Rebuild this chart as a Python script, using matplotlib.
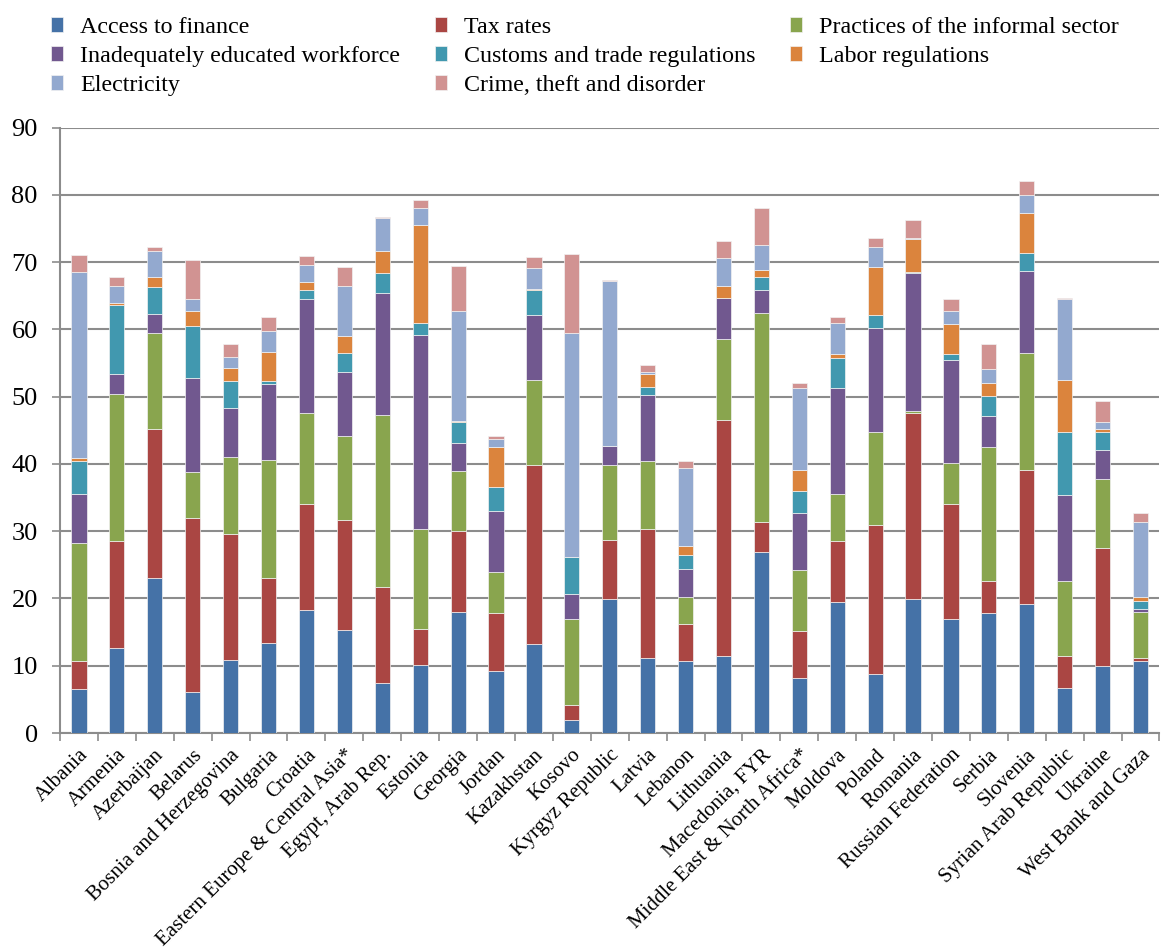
import matplotlib
matplotlib.use("Agg")
import matplotlib.pyplot as plt
import numpy as np

plt.rcParams['font.family'] = ['Liberation Serif', 'DejaVu Serif']

countries = ["Albania", "Armenia", "Azerbaijan", "Belarus", "Bosnia and Herzegovina",
             "Bulgaria", "Croatia", "Eastern Europe & Central Asia*", "Egypt, Arab Rep.",
             "Estonia", "Georgia", "Jordan", "Kazakhstan", "Kosovo", "Kyrgyz Republic",
             "Latvia", "Lebanon", "Lithuania", "Macedonia, FYR",
             "Middle East & North Africa*", "Moldova", "Poland", "Romania",
             "Russian Federation", "Serbia", "Slovenia", "Syrian Arab Republic",
             "Ukraine", "West Bank and Gaza"]

finance    = [6.5, 12.7, 23.1, 6.1, 10.9, 13.4, 18.3, 15.3, 7.5, 10.1, 18.0, 9.2, 13.3, 2.0, 19.9,
              11.1, 10.7, 11.4, 26.9, 8.2, 19.5, 8.8, 19.9, 17.0, 17.8, 19.2, 6.7, 10.0, 10.7]
tax        = [4.2, 15.9, 22.1, 25.9, 18.7, 9.6, 15.7, 16.3, 14.2, 5.4, 12.1, 8.6, 26.5, 2.2, 8.8,
              19.2, 5.5, 35.1, 4.4, 6.9, 9.0, 22.1, 27.7, 17.0, 4.8, 19.9, 4.7, 17.5, 0.5]
informal   = [17.5, 21.8, 14.2, 6.8, 11.4, 17.6, 13.6, 12.6, 25.6, 14.8, 8.9, 6.1, 12.7, 12.8, 11.1,
              10.2, 4.0, 12.1, 31.2, 9.2, 7.1, 13.8, 0.2, 6.2, 19.9, 17.4, 11.2, 10.2, 6.8]
workforce  = [7.3, 2.9, 2.9, 14.0, 7.3, 11.3, 16.9, 9.5, 18.1, 28.8, 4.1, 9.1, 9.6, 3.7, 2.8,
              9.7, 4.2, 6.1, 3.4, 8.4, 15.7, 15.5, 20.6, 15.3, 4.7, 12.2, 12.8, 4.3, 0.4]
customs    = [5.0, 10.4, 4.0, 7.7, 4.1, 0.5, 1.3, 2.8, 3.0, 1.8, 3.2, 3.5, 3.7, 5.4, 0.0,
              1.3, 2.1, 0.0, 1.9, 3.3, 4.4, 1.9, 0.1, 0.9, 2.9, 2.6, 9.4, 2.8, 1.3]
labor      = [0.4, 0.2, 1.5, 2.3, 1.9, 4.3, 1.2, 2.5, 3.3, 14.6, 0.1, 6.0, 0.2, 0.0, 0.0,
              1.9, 1.3, 1.7, 1.0, 3.1, 0.7, 7.1, 4.9, 4.4, 2.0, 6.0, 7.7, 0.4, 0.5]
electricity = [27.7, 2.5, 3.8, 1.7, 1.6, 3.0, 2.5, 7.5, 4.8, 2.5, 16.4, 1.2, 3.1, 33.4, 24.6,
               0.2, 11.6, 4.2, 3.8, 12.2, 4.5, 3.1, 0.2, 2.0, 2.0, 2.7, 12.0, 1.1, 11.2]
crime      = [2.4, 1.4, 0.6, 5.8, 1.9, 2.1, 1.4, 2.7, 0.2, 1.2, 6.6, 0.5, 1.6, 11.7, 0.1,
              1.1, 1.1, 2.5, 5.4, 0.7, 0.9, 1.3, 2.7, 1.7, 3.7, 2.1, 0.2, 3.1, 1.3]

series = [
    ("Access to finance", finance, "#4572A7"),
    ("Tax rates", tax, "#AA4643"),
    ("Practices of the informal sector", informal, "#89A54E"),
    ("Inadequately educated workforce", workforce, "#71588F"),
    ("Customs and trade regulations", customs, "#4198AF"),
    ("Labor regulations", labor, "#DB843D"),
    ("Electricity", electricity, "#93A9CF"),
    ("Crime, theft and disorder", crime, "#D19392"),
]

fig = plt.figure(figsize=(11.61, 9.52), dpi=100)
ax = fig.add_axes([0.0517, 0.230, 0.947, 0.636])

x = np.arange(len(countries))
bottom = np.zeros(len(countries))
handles = []
for name, vals, col in series:
    b = ax.bar(x, vals, 0.40, bottom=bottom, color=col, edgecolor="#f2f2f2",
               linewidth=0.5, label=name, zorder=3)
    handles.append(b)
    bottom += np.array(vals)

ax.set_xlim(-0.5, len(countries) - 0.5)
ax.set_ylim(0, 90)
ax.set_yticks(range(0, 91, 10))
ax.yaxis.grid(True, color="#8c8c8c", linewidth=1.5, zorder=0)
ax.tick_params(axis="y", labelsize=19, length=6, color="#8c8c8c", width=1.2, pad=10)

ax.set_xticks(x)
ax.set_xticklabels(countries, rotation=45, ha="right", rotation_mode="anchor", fontsize=15)
ax.tick_params(axis="x", which="major", length=0, pad=9)
ax.set_xticks(np.arange(-0.5, len(countries), 1), minor=True)
ax.tick_params(axis="x", which="minor", length=6, color="#8c8c8c", width=1.2)

for s in ["top", "right"]:
    ax.spines[s].set_visible(False)
for s in ["left", "bottom"]:
    ax.spines[s].set_color("#8c8c8c")
    ax.spines[s].set_linewidth(1.5)

order = [0, 3, 6, 1, 4, 7, 2, 5]
fig.legend([handles[i] for i in order], [series[i][0] for i in order],
           loc="upper left", bbox_to_anchor=(0.0255, 1.005), ncol=3, frameon=False,
           fontsize=17.3, handlelength=0.5, handleheight=0.6, handletextpad=0.7,
           columnspacing=1.45, labelspacing=0.33)

fig.savefig("out.png", dpi=100)
